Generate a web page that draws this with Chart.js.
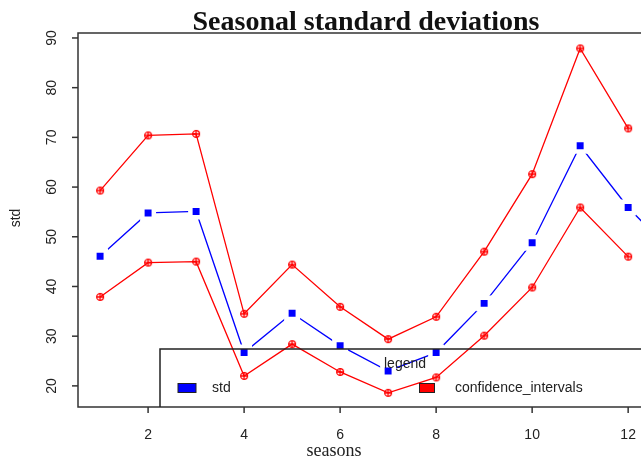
<!DOCTYPE html>
<html>
<head>
<meta charset="utf-8">
<script src="https://cdn.jsdelivr.net/npm/chart.js@4"></script>
<style>
  html, body { margin: 0; padding: 0; background: #fff; overflow: hidden; }
  #wrap { width: 641px; height: 461px; overflow: hidden; }
</style>
</head>
<body>
<div id="wrap"><canvas id="seasonChart" width="680" height="461"></canvas></div>
<script>
const seasons = [1, 2, 3, 4, 5, 6, 7, 8, 9, 10, 11, 12, 13];
const stdValues = [46.1, 54.8, 55.1, 26.7, 34.6, 28.1, 23.0, 26.7, 36.6, 48.8, 68.3, 55.9, 46.0];
const upperCI = [59.3, 70.4, 70.7, 34.5, 44.4, 35.9, 29.4, 33.9, 47.0, 62.6, 87.9, 71.8];
const lowerCI = [37.9, 44.8, 45.0, 22.0, 28.4, 22.8, 18.6, 21.7, 30.1, 39.8, 55.9, 46.0];
const xTicks = [2, 4, 6, 8, 10, 12];
const yTicks = [20, 30, 40, 50, 60, 70, 80, 90];

const toPoints = (vals) => vals.map((v, i) => ({ x: seasons[i], y: v }));

// R-like "circle with plus" marker
function circlePlus(color) {
  const c = document.createElement('canvas');
  c.width = 10; c.height = 10;
  const g = c.getContext('2d');
  g.strokeStyle = color;
  g.lineWidth = 1.3;
  g.beginPath(); g.arc(5, 5, 3.4, 0, Math.PI * 2); g.stroke();
  g.beginPath(); g.moveTo(1, 5); g.lineTo(9, 5); g.moveTo(5, 1); g.lineTo(5, 9); g.stroke();
  return c;
}
const redMarker = circlePlus('#ff0000');

const axisColor = '#333';

const rDecor = {
  id: 'rDecor',
  afterDatasetsDraw(chart) {
    const ctx = chart.ctx;
    const a = chart.chartArea;
    const xs = chart.scales.x, ys = chart.scales.y;
    ctx.save();
    ctx.strokeStyle = axisColor;
    ctx.lineWidth = 1.5;
    // frame (left, top, bottom)
    ctx.beginPath();
    ctx.moveTo(a.right + 30, a.top); ctx.lineTo(a.left, a.top);
    ctx.lineTo(a.left, a.bottom); ctx.lineTo(a.right + 30, a.bottom);
    ctx.stroke();

    // y ticks + rotated labels
    ctx.fillStyle = '#222';
    ctx.font = '14px "Liberation Sans", Arial, sans-serif';
    ctx.textAlign = 'center';
    ctx.textBaseline = 'middle';
    yTicks.forEach(t => {
      const y = ys.getPixelForValue(t);
      ctx.beginPath(); ctx.moveTo(a.left - 6, y); ctx.lineTo(a.left, y); ctx.stroke();
      ctx.save();
      ctx.translate(a.left - 26, y);
      ctx.rotate(-Math.PI / 2);
      ctx.fillText(String(t), 0, 0);
      ctx.restore();
    });
    // x ticks + labels
    xTicks.forEach(t => {
      const x = xs.getPixelForValue(t);
      ctx.beginPath(); ctx.moveTo(x, a.bottom); ctx.lineTo(x, a.bottom + 6); ctx.stroke();
      ctx.fillText(String(t), x, a.bottom + 28);
    });

    // axis titles
    ctx.save();
    ctx.translate(16, 218);
    ctx.rotate(-Math.PI / 2);
    ctx.fillText('std', 0, 0);
    ctx.restore();
    ctx.font = '18px "Liberation Serif", "Times New Roman", serif';
    ctx.fillText('seasons', 334, 451);

    // title
    ctx.fillStyle = '#111';
    ctx.font = 'bold 28px "Liberation Serif", "Times New Roman", serif';
    ctx.textBaseline = 'alphabetic';
    ctx.fillText('Seasonal standard deviations', 366, 30);

    // legend box
    ctx.strokeStyle = '#222';
    ctx.lineWidth = 1.5;
    ctx.beginPath();
    ctx.moveTo(a.right + 30, 349); ctx.lineTo(160, 349); ctx.lineTo(160, a.bottom);
    ctx.stroke();
    ctx.fillStyle = '#222';
    ctx.font = '14px "Liberation Sans", Arial, sans-serif';
    ctx.textBaseline = 'middle';
    ctx.textAlign = 'center';
    ctx.fillText('legend', 405, 364);
    ctx.textAlign = 'left';
    ctx.fillText('std', 212, 388);
    ctx.fillText('confidence_intervals', 455, 388);
    ctx.lineWidth = 1;
    ctx.fillStyle = '#0000ff';
    ctx.fillRect(178, 383.5, 18, 9);
    ctx.strokeRect(178, 383.5, 18, 9);
    ctx.fillStyle = '#ff0000';
    ctx.fillRect(419.5, 383.5, 15, 9);
    ctx.strokeRect(419.5, 383.5, 15, 9);
    ctx.restore();
  }
};

new Chart(document.getElementById('seasonChart'), {
  type: 'scatter',
  data: {
    datasets: [
      {
        label: 'upper',
        data: toPoints(upperCI),
        showLine: true,
        borderColor: '#ff0000',
        borderWidth: 1.3,
        pointStyle: redMarker,
        pointRadius: 4,
      },
      {
        label: 'lower',
        data: toPoints(lowerCI),
        showLine: true,
        borderColor: '#ff0000',
        borderWidth: 1.3,
        pointStyle: redMarker,
        pointRadius: 4,
      },
      {
        label: 'std',
        data: toPoints(stdValues),
        showLine: true,
        borderColor: '#0000ff',
        borderWidth: 1.3,
        pointStyle: 'rect',
        pointRadius: 8.1,
        pointBackgroundColor: '#0000ff',
        pointBorderColor: '#ffffff',
        pointBorderWidth: 4.5,
      },
    ],
  },
  options: {
    responsive: false,
    animation: false,
    events: [],
    layout: { padding: { left: 78, top: 33, right: 24, bottom: 54 } },
    plugins: { legend: { display: false }, tooltip: { enabled: false }, title: { display: false } },
    scales: {
      x: { type: 'linear', min: 0.54, max: 12.58, display: false },
      y: { type: 'linear', min: 15.75, max: 91.0, display: false },
    },
  },
  plugins: [rDecor],
});
</script>
</body>
</html>
